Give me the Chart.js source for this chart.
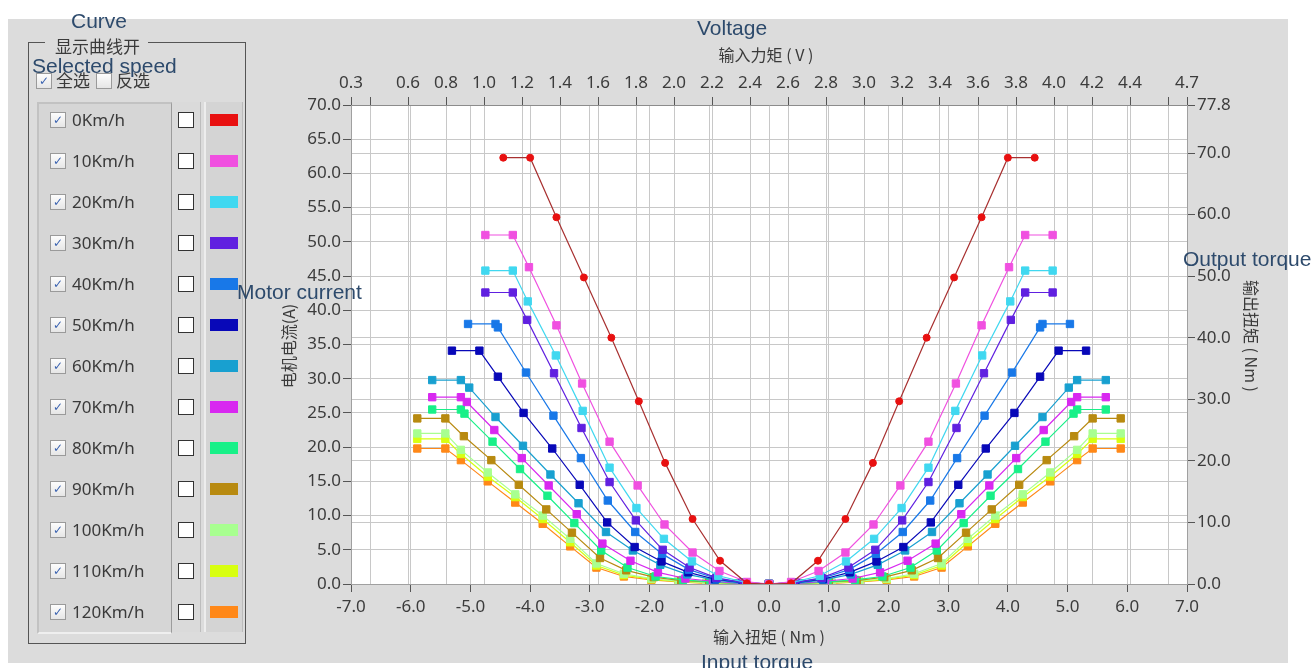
<!DOCTYPE html>
<html>
<head>
<meta charset="utf-8">
<script src="https://cdn.jsdelivr.net/npm/chart.js@4.4.1/dist/chart.umd.min.js"></script>
<style>
  body { margin: 0; width: 1315px; height: 668px; background: #fff; overflow: hidden; position: relative; }
  #bg { position: absolute; left: 8px; top: 19px; width: 1280px; height: 644px; background: #dcdcdc; }
  #chart { position: absolute; left: 0; top: 0; }
  .t { position: absolute; white-space: nowrap; line-height: 1; }
  .en { font-family: "Liberation Sans", Arial, sans-serif; font-size: 21px; color: #2d4a6c; }
  .cn { font-family: "Noto Sans CJK SC", sans-serif; font-size: 16px; color: #3a3a3a; }
  .c { transform: translate(-50%, -50%); }
  .vl { transform: translate(-50%, -50%) rotate(-90deg); }
  .vr { transform: translate(-50%, -50%) rotate(90deg); }
  .box { position: absolute; }
  .chk { position: absolute; width: 14px; height: 14px; border: 1px solid #9a9a9a;
         background: linear-gradient(#fdfdfd, #e6e6e6); font: 12px "DejaVu Sans"; color: #3b63b0;
         text-align: center; line-height: 14px; }
  .wb { position: absolute; width: 14px; height: 14px; border: 1px solid #333; background: #fff; }
  .sw { position: absolute; width: 28px; height: 12px; }
  .lbl { position: absolute; font-family: "Noto Sans", sans-serif; font-size: 17px; color: #3a3a3a; line-height: 1; }
</style>
</head>
<body>
<div id="bg"></div>
<canvas id="chart" width="1315" height="668"></canvas>

<div class="t en" style="left:71px; top:10px;">Curve</div>
<div class="box" style="left:28px; top:42px; width:216px; height:600px; border:1.5px solid #555;"></div>
<div class="t cn" style="left:45px; top:37px; padding:0 8px 0 10px; background:#dcdcdc; font-size:17px;">显示曲线开</div>
<div class="t en" style="left:32px; top:55px;">Selected speed</div>
<div class="chk" style="left:36px; top:73px;">✓</div>
<div class="t cn" style="left:56px; top:71px; font-size:17px;">全选</div>
<div class="chk" style="left:96px; top:73px;"></div>
<div class="t cn" style="left:116px; top:71px; font-size:17px;">反选</div>

<div class="box" style="left:37px; top:102px; width:132px; height:528px; background:#d6d6d6;
     border-top:2px solid #c2c2c2; border-left:2px solid #c2c2c2; border-bottom:2px solid #efefef; border-right:1px solid #9c9c9c;"></div>
<div class="box" style="left:172px; top:102px; width:28px; height:530px; background:#dadada; border-right:1px solid #bdbdbd;"></div>
<div class="box" style="left:204px; top:102px; width:36px; height:530px; background:#d4d4d4;
     border-left:2px solid #ededed; border-right:1px solid #bcbcbc;"></div>
<div id="panel"></div>

<div class="t en" style="left:237px; top:281px;">Motor current</div>
<div class="t cn vl" style="left:288px; top:346px;">电机电流(A)</div>
<div class="t en" style="left:1183px; top:248px;">Output torque</div>
<div class="t cn vr" style="left:1252px; top:336px;">输出扭矩 ( Nm )</div>
<div class="t en" style="left:697px; top:17px;">Voltage</div>
<div class="t cn c" style="left:766px; top:54px;">输入力矩 ( V )</div>
<div class="t cn c" style="left:769px; top:636px;">输入扭矩 ( Nm )</div>
<div class="t en" style="left:701px; top:651px;">Input torque</div>

<script>
// ---- data ----
const speedLabels = ['0Km/h', '10Km/h', '20Km/h', '30Km/h', '40Km/h', '50Km/h', '60Km/h',
                     '70Km/h', '80Km/h', '90Km/h', '100Km/h', '110Km/h', '120Km/h'];
const speedColors = ['#e81010', '#f050e0', '#40d8f0', '#6020e0', '#1878e8', '#0808b8', '#18a0d0',
                     '#d828f0', '#18f088', '#b88a10', '#a8ff90', '#d8ff10', '#ff8818'];

const torque0   = [-4.45,-4.00,-3.56,-3.10,-2.64,-2.18,-1.74,-1.28,-0.82,-0.37,0,0.37,0.82,1.28,1.74,2.18,2.64,3.10,3.56,4.00,4.45];
const current0  = [62.3,62.3,53.6,44.8,36.0,26.7,17.7,9.5,3.4,0.1,0,0.1,3.4,9.5,17.7,26.7,36.0,44.8,53.6,62.3,62.3];

const torque10  = [-4.75,-4.29,-4.02,-3.56,-3.13,-2.67,-2.20,-1.75,-1.28,-0.83,-0.37,0,0.37,0.83,1.28,1.75,2.20,2.67,3.13,3.56,4.02,4.29,4.75];
const current10 = [51.0,51.0,46.3,37.8,29.3,20.8,14.4,8.7,4.6,1.9,0.3,0,0.3,1.9,4.6,8.7,14.4,20.8,29.3,37.8,46.3,51.0,51.0];

const torque20  = [-4.75,-4.29,-4.04,-3.57,-3.12,-2.67,-2.22,-1.76,-1.29,-0.85,-0.38,0,0.38,0.85,1.29,1.76,2.22,2.67,3.12,3.57,4.04,4.29,4.75];
const current20 = [45.8,45.8,41.3,33.4,25.3,17.0,11.1,6.6,3.3,1.2,0.2,0,0.2,1.2,3.3,6.6,11.1,17.0,25.3,33.4,41.3,45.8,45.8];

const torque30  = [-4.75,-4.29,-4.05,-3.60,-3.14,-2.67,-2.23,-1.78,-1.33,-0.88,-0.42,0,0.42,0.88,1.33,1.78,2.23,2.67,3.14,3.60,4.05,4.29,4.75];
const current30 = [42.6,42.6,38.6,30.8,22.8,14.9,9.3,5.0,2.4,0.9,0.2,0,0.2,0.9,2.4,5.0,9.3,14.9,22.8,30.8,38.6,42.6,42.6];

const torque40  = [-5.04,-4.58,-4.54,-4.07,-3.61,-3.15,-2.70,-2.24,-1.79,-1.34,-0.88,-0.42,0,0.42,0.88,1.34,1.79,2.24,2.70,3.15,3.61,4.07,4.54,4.58,5.04];
const current40 = [38.0,38.0,37.5,30.9,24.6,18.4,12.2,7.6,4.4,2.1,0.8,0.2,0,0.2,0.8,2.1,4.4,7.6,12.2,18.4,24.6,30.9,37.5,38.0,38.0];

const torque50  = [-5.31,-4.85,-4.54,-4.11,-3.63,-3.17,-2.71,-2.25,-1.80,-1.35,-0.90,-0.44,0,0.44,0.90,1.35,1.80,2.25,2.71,3.17,3.63,4.11,4.54,4.85,5.31];
const current50 = [34.1,34.1,30.3,25.0,19.8,14.5,9.0,5.4,3.3,1.7,0.7,0.2,0,0.2,0.7,1.7,3.3,5.4,9.0,14.5,19.8,25.0,30.3,34.1,34.1];

const torque60  = [-5.64,-5.16,-5.02,-4.58,-4.12,-3.66,-3.19,-2.73,-2.28,-1.82,-1.37,-0.91,-0.45,0,0.45,0.91,1.37,1.82,2.28,2.73,3.19,3.66,4.12,4.58,5.02,5.16,5.64];
const current60 = [29.8,29.8,28.7,24.4,20.2,16.0,11.8,7.6,4.9,2.8,1.4,0.6,0.1,0,0.1,0.6,1.4,2.8,4.9,7.6,11.8,16.0,20.2,24.4,28.7,29.8,29.8];

const torque70  = [-5.64,-5.16,-5.06,-4.60,-4.14,-3.69,-3.22,-2.79,-2.32,-1.86,-1.40,-0.94,-0.47,0,0.47,0.94,1.40,1.86,2.32,2.79,3.22,3.69,4.14,4.60,5.06,5.16,5.64];
const current70 = [27.3,27.3,26.6,22.5,18.4,14.4,10.2,5.9,3.4,1.7,0.8,0.4,0.1,0,0.1,0.4,0.8,1.7,3.4,5.9,10.2,14.4,18.4,22.5,26.6,27.3,27.3];

const torque80  = [-5.64,-5.16,-5.10,-4.63,-4.17,-3.71,-3.26,-2.81,-2.37,-1.90,-1.44,-0.98,-0.50,0,0.50,0.98,1.44,1.90,2.37,2.81,3.26,3.71,4.17,4.63,5.10,5.16,5.64];
const current80 = [25.5,25.5,24.9,20.8,16.8,12.9,8.9,4.9,2.4,1.1,0.6,0.3,0.1,0,0.1,0.3,0.6,1.1,2.4,4.9,8.9,12.9,16.8,20.8,24.9,25.5,25.5];

const torque90  = [-5.89,-5.42,-5.11,-4.65,-4.19,-3.73,-3.30,-2.83,-2.39,-1.93,-1.47,-1.00,-0.52,0,0.52,1.00,1.47,1.93,2.39,2.83,3.30,3.73,4.19,4.65,5.11,5.42,5.89];
const current90 = [24.2,24.2,21.6,18.1,14.5,10.9,7.5,3.8,2.0,1.0,0.5,0.3,0.1,0,0.1,0.3,0.5,1.0,2.0,3.8,7.5,10.9,14.5,18.1,21.6,24.2,24.2];

const torque100  = [-5.89,-5.42,-5.16,-4.71,-4.25,-3.79,-3.33,-2.89,-2.43,-1.97,-1.51,-1.05,-0.55,0,0.55,1.05,1.51,1.97,2.43,2.89,3.33,3.79,4.25,4.71,5.16,5.42,5.89];
const current100 = [22.0,22.0,19.6,16.3,13.1,10.0,6.6,3.0,1.5,0.8,0.4,0.2,0.1,0,0.1,0.2,0.4,0.8,1.5,3.0,6.6,10.0,13.1,16.3,19.6,22.0,22.0];

const torque110  = [-5.89,-5.42,-5.16,-4.71,-4.25,-3.79,-3.33,-2.89,-2.43,-1.97,-1.51,-1.05,-0.55,0,0.55,1.05,1.51,1.97,2.43,2.89,3.33,3.79,4.25,4.71,5.16,5.42,5.89];
const current110 = [21.2,21.2,19.0,15.7,12.7,9.5,6.1,2.7,1.3,0.7,0.35,0.15,0.05,0,0.05,0.15,0.35,0.7,1.3,2.7,6.1,9.5,12.7,15.7,19.0,21.2,21.2];

const torque120  = [-5.89,-5.42,-5.16,-4.71,-4.25,-3.79,-3.33,-2.89,-2.43,-1.97,-1.51,-1.05,-0.55,0,0.55,1.05,1.51,1.97,2.43,2.89,3.33,3.79,4.25,4.71,5.16,5.42,5.89];
const current120 = [19.8,19.8,18.1,15.0,11.9,8.8,5.5,2.4,1.1,0.6,0.3,0.1,0.05,0,0.05,0.1,0.3,0.6,1.1,2.4,5.5,8.8,11.9,15.0,18.1,19.8,19.8];

// top axis (voltage) and right axis (output torque)
const voltTicks  = [0.3, 0.4, 0.6, 0.8, 1.0, 1.2, 1.4, 1.6, 1.8, 2.0, 2.2, 2.4, 2.6, 2.8, 3.0, 3.2, 3.4, 3.6, 3.8, 4.0, 4.2, 4.4, 4.6, 4.7];
const voltLabels = ['0.3', '', '0.6', '0.8', '1.0', '1.2', '1.4', '1.6', '1.8', '2.0', '2.2', '2.4', '2.6', '2.8', '3.0', '3.2', '3.4', '3.6', '3.8', '4.0', '4.2', '4.4', '', '4.7'];
const outTicks   = [0, 10, 20, 30, 40, 50, 60, 70, 77.8];

const torques  = [torque0, torque10, torque20, torque30, torque40, torque50, torque60,
                  torque70, torque80, torque90, torque100, torque110, torque120];
const currents = [current0, current10, current20, current30, current40, current50, current60,
                  current70, current80, current90, current100, current110, current120];

// ---- left selection panel ----
const panel = document.getElementById('panel');
speedLabels.forEach((name, i) => {
  const y = 120 + 41 * i;
  panel.insertAdjacentHTML('beforeend',
    `<div class="chk" style="left:50px; top:${y - 8}px;">✓</div>` +
    `<div class="lbl" style="left:72px; top:${y - 9}px;">${name}</div>` +
    `<div class="wb" style="left:178px; top:${y - 8}px;"></div>` +
    `<div class="sw" style="left:210px; top:${y - 6}px; background:${speedColors[i]};"></div>`);
});

// ---- chart ----
const plotBg = {
  id: 'plotBg',
  beforeDraw(chart) {
    const { ctx, chartArea: a } = chart;
    ctx.save();
    ctx.fillStyle = '#ffffff';
    ctx.fillRect(a.left, a.top, a.width, a.height);
    ctx.restore();
  }
};

const datasets = speedLabels.map((name, i) => ({
  label: name,
  data: torques[i].map((t, k) => ({ x: t, y: currents[i][k] })),
  showLine: true,
  borderColor: i === 0 ? '#a83030' : speedColors[i],
  borderWidth: 1.2,
  backgroundColor: speedColors[i],
  pointBackgroundColor: speedColors[i],
  pointBorderColor: speedColors[i],
  pointBorderWidth: 1,
  pointStyle: i === 0 ? 'circle' : 'rect',
  pointRadius: i === 0 ? 3.5 : 5.2,
  xAxisID: 'x',
  yAxisID: 'y'
}));

const tickFont = { family: '"Noto Sans", sans-serif', size: 17 };
const tickColor = '#3c3c3c';
const gridColor = '#c8c8c8';

new Chart(document.getElementById('chart'), {
  type: 'scatter',
  data: { datasets },
  plugins: [plotBg],
  options: {
    responsive: false,
    devicePixelRatio: 1,
    animation: false,
    events: [],
    layout: { padding: { left: 291, right: 68, top: 65, bottom: 44 } },
    plugins: { legend: { display: false }, tooltip: { enabled: false } },
    scales: {
      x: {
        type: 'linear', position: 'bottom', min: -7, max: 7, display: true,
        ticks: { stepSize: 1, callback: v => v.toFixed(1), font: tickFont, color: tickColor,
                 padding: 5, autoSkip: false, maxRotation: 0 },
        grid: { color: gridColor, tickColor: '#555', tickLength: 8 },
        border: { color: '#a0a0a0' },
        afterFit: s => { s.height = 40; }
      },
      x2: {
        type: 'linear', position: 'top', min: 0.3, max: 4.7, display: true,
        afterBuildTicks: s => { s.ticks = voltTicks.map(v => ({ value: v })); },
        ticks: { callback: (v, i) => voltLabels[i], font: tickFont, color: tickColor,
                 padding: 4, autoSkip: false, maxRotation: 0 },
        grid: { color: gridColor, tickColor: '#555', tickLength: 8 },
        border: { color: '#8c8c8c' },
        afterFit: s => { s.height = 40; }
      },
      y: {
        type: 'linear', position: 'left', min: 0, max: 70, display: true,
        ticks: { stepSize: 5, callback: v => v.toFixed(1), font: tickFont, color: tickColor, padding: 2 },
        grid: { color: gridColor, tickColor: '#555', tickLength: 8 },
        border: { color: '#a0a0a0' },
        afterFit: s => { s.width = 60; }
      },
      y2: {
        type: 'linear', position: 'right', min: 0, max: 77.8, display: true,
        afterBuildTicks: s => { s.ticks = outTicks.map(v => ({ value: v })); },
        ticks: { callback: v => v.toFixed(1), font: tickFont, color: tickColor, padding: 2 },
        grid: { color: gridColor, tickColor: '#555', tickLength: 8 },
        border: { color: '#a0a0a0' },
        afterFit: s => { s.width = 60; }
      }
    }
  }
});
</script>
</body>
</html>
